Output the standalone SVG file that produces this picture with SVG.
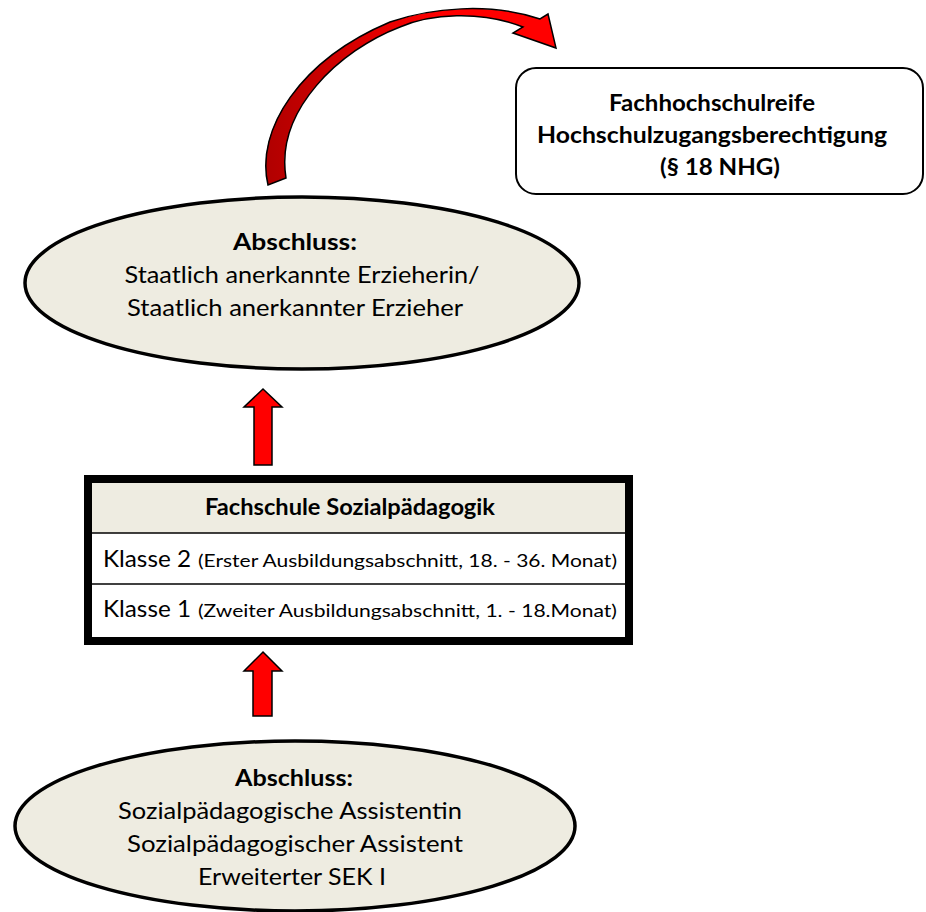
<svg xmlns="http://www.w3.org/2000/svg" width="926" height="912" viewBox="0 0 926 912">
<defs>
<linearGradient id="curveGrad" x1="0" y1="0" x2="1" y2="0">
<stop offset="0" stop-color="#B00000"/>
<stop offset="0.6" stop-color="#FF0000"/>
<stop offset="1" stop-color="#FF0000"/>
</linearGradient>
<style>
.t{font-family:Lato,"Open Sans","Liberation Sans",sans-serif;fill:#000;text-anchor:middle}
.s{text-anchor:start}
.b{font-weight:bold}
.ell{fill:#EEECE1;stroke:#000;stroke-width:3.5}
.arr{fill:#FF0000;stroke:#000;stroke-width:1.5;stroke-linejoin:miter}
</style>
</defs>
<rect width="926" height="912" fill="#fff"/>

<g id="connectors">
<path id="curved-arrow" d="M268,185 C255,130 300,60 390,22 C430,8 490,2 540,19 L548,14 L556,48 L513,33 L523,27 C480,10 430,14 400,27 C340,50 275,110 286,178 Z" fill="url(#curveGrad)" stroke="#000" stroke-width="1.5" stroke-linejoin="miter"/>
<polygon id="arrow-up-1" class="arr" points="263,389 282,407 272,407 272,465 254,465 254,407 244,407"/>
<polygon id="arrow-up-2" class="arr" points="263,652 282,671 272,671 272,716 253,716 253,671 244,671"/>
</g>

<g id="node-fachhochschulreife">
<rect x="516" y="68" width="407" height="126" rx="20" ry="20" fill="#fff" stroke="#000" stroke-width="2"/>
<text class="t b" x="712" y="111" font-size="23" textLength="206" lengthAdjust="spacingAndGlyphs">Fachhochschulreife</text>
<text class="t b" x="712" y="143" font-size="23" textLength="350" lengthAdjust="spacingAndGlyphs">Hochschulzugangsberechtigung</text>
<text class="t b" x="720" y="175" font-size="23" textLength="120" lengthAdjust="spacingAndGlyphs">(§ 18 NHG)</text>
</g>

<g id="node-erzieher">
<ellipse class="ell" cx="302" cy="283" rx="277" ry="86"/>
<text class="t b" x="295" y="250" font-size="23" textLength="124" lengthAdjust="spacingAndGlyphs">Abschluss:</text>
<text class="t" x="302" y="283" font-size="24" textLength="355" lengthAdjust="spacingAndGlyphs">Staatlich anerkannte Erzieherin/</text>
<text class="t" x="295" y="316" font-size="24" textLength="336" lengthAdjust="spacingAndGlyphs">Staatlich anerkannter Erzieher</text>
</g>

<g id="node-fachschule">
<rect x="88" y="479" width="541" height="162" fill="#fff" stroke="none"/>
<rect x="92" y="483" width="533" height="50" fill="#EEECE1"/>
<line x1="92" y1="533" x2="625" y2="533" stroke="#000" stroke-width="1.5"/>
<line x1="92" y1="584" x2="625" y2="584" stroke="#000" stroke-width="1.5"/>
<rect x="88" y="479" width="541" height="162" fill="none" stroke="#000" stroke-width="8"/>
<text class="t b" x="350" y="515" font-size="23" textLength="290" lengthAdjust="spacingAndGlyphs">Fachschule Sozialpädagogik</text>
<text class="t s" x="103" y="567" font-size="24" textLength="88" lengthAdjust="spacingAndGlyphs">Klasse 2</text>
<text class="t s" x="198" y="567" font-size="18" textLength="419" lengthAdjust="spacingAndGlyphs">(Erster Ausbildungsabschnitt, 18. - 36. Monat)</text>
<text class="t s" x="103" y="617" font-size="24" textLength="88" lengthAdjust="spacingAndGlyphs">Klasse 1</text>
<text class="t s" x="198" y="617" font-size="18" textLength="419" lengthAdjust="spacingAndGlyphs">(Zweiter Ausbildungsabschnitt, 1. - 18.Monat)</text>
</g>

<g id="node-assistent">
<ellipse class="ell" cx="295" cy="826" rx="280" ry="85"/>
<text class="t b" x="294" y="786" font-size="23" textLength="118" lengthAdjust="spacingAndGlyphs">Abschluss:</text>
<text class="t" x="290" y="819" font-size="24" textLength="344" lengthAdjust="spacingAndGlyphs">Sozialpädagogische Assistentin</text>
<text class="t" x="295" y="852" font-size="24" textLength="336" lengthAdjust="spacingAndGlyphs">Sozialpädagogischer Assistent</text>
<text class="t" x="292" y="885" font-size="24" textLength="188" lengthAdjust="spacingAndGlyphs">Erweiterter SEK I</text>
</g>
</svg>
